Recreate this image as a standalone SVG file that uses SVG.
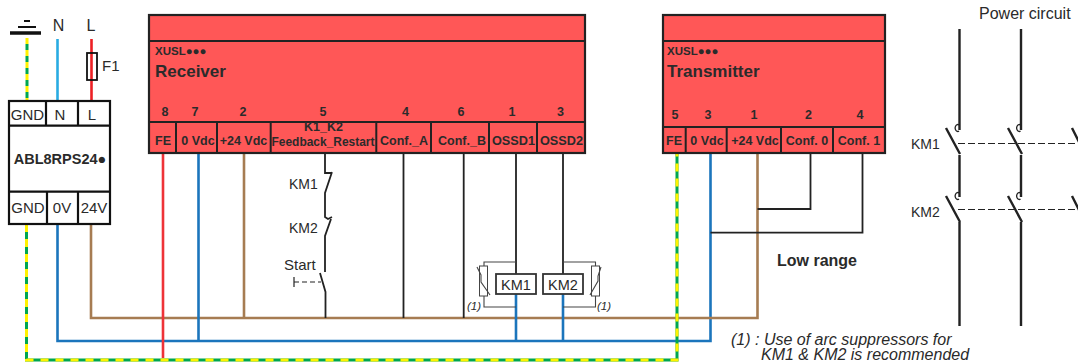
<svg xmlns="http://www.w3.org/2000/svg" width="1078" height="363" viewBox="0 0 1078 363">
<style>
text{font-family:"Liberation Sans",Arial,sans-serif;fill:#2a2a2a}
.c{text-anchor:middle}
.b{font-weight:bold}
.t{font-weight:bold;font-size:12.5px;text-anchor:middle;fill:#2b2b2b}
.n{font-weight:bold;font-size:12.5px;text-anchor:middle;fill:#2b2b2b}
.big{font-weight:bold;font-size:17px;fill:#2b2b2b}
.x{font-weight:bold;font-size:11.5px;fill:#2b2b2b}
.box{fill:#ff5757;stroke:#222;stroke-width:2.200}
.div{fill:none;stroke:#222;stroke-width:2}
.w{fill:none;stroke-width:2.600}
.e{fill:none;stroke-width:3}
.bk{fill:none;stroke:#222;stroke-width:1.800}
.th{fill:none;stroke:#222;stroke-width:1.200}
.gr{fill:none;stroke:#444;stroke-width:1.100}
.pw{fill:none;stroke:#222;stroke-width:2.400}
.da{fill:none;stroke:#222;stroke-width:1;stroke-dasharray:7 3}
.psu{fill:#fff;stroke:#111;stroke-width:2.200}
.it{font-style:italic}
</style>
<g id="connectors">
<path class="e" stroke="#fff200" stroke-dasharray="6 6" d="M27 38V100"/>
<path class="e" stroke="#00a651" stroke-dasharray="6 6" stroke-dashoffset="6" d="M27 38V100"/>
<path class="w" stroke="#29abe2" d="M57.500 39V100"/>
<path class="w" stroke="#ed2024" d="M91.500 39V100"/>
<path class="w" stroke="#1b75bc" d="M57.500 224V341H710.500V153"/>
<path class="w" stroke="#a67c52" d="M91 224V318H757.500V153"/>
<path class="w" stroke="#1b75bc" d="M198.500 153V341"/>
<path class="w" stroke="#a67c52" d="M244 153V318"/>
<path class="w" stroke="#ee3338" d="M163 153V358"/>
<path class="e" stroke="#00a651" d="M26.500 224V360H677V153"/>
<path class="e" stroke="#fff200" stroke-dasharray="8 7" d="M26.500 224V360H677V153"/>
<path class="bk" d="M403.500 153V318M463.700 153V318M516 153V274M563 153V274"/>
<path class="w" stroke="#1b75bc" d="M516 294V341M563 294V341"/>
<path class="bk" d="M757.500 209H810.500V153M710.500 232.700H862.500V153"/>
<path class="bk" d="M325 153V173H332M332 172L325 193V217L328 219L332 217M331 219L325 236V272M320 273L325.500 292V318"/>
<path class="th" d="M294 277V287"/><path class="th" stroke-dasharray="5 3" d="M294 282H321"/>
<path class="gr" d="M516 262H484V266M484 296V307H516M563 262H595.500V266M595.500 296V307H563"/>
</g>
<g id="earth"><path d="M10 33H41" stroke="#111" stroke-width="3.500"/><path d="M18 27H36" stroke="#111" stroke-width="2"/><path d="M24 21H30" stroke="#111" stroke-width="2"/></g>
<g id="labels-top"><text class="c" x="58.500" y="31" font-size="16">N</text><text class="c" x="91" y="31" font-size="16">L</text><text x="102" y="71" font-size="15">F1</text></g>
<g id="fuse"><rect x="87" y="53" width="10" height="27" fill="none" stroke="#111" stroke-width="1.800"/></g>
<g id="psu">
<rect class="psu" x="9" y="101" width="101" height="123"/>
<path class="psu" d="M9 125.700H110M9 191.700H110M46 101V125.700M78 101V125.700M47 191.700V224M78 191.700V224" style="fill:none"/>
<text class="c" x="27.500" y="120" font-size="15">GND</text><text class="c" x="60" y="120" font-size="15">N</text><text class="c" x="92" y="120" font-size="15">L</text>
<text class="c b" x="60" y="164" font-size="14.500" fill="#222">ABL8RPS24●</text>
<text class="c" x="28" y="213" font-size="15">GND</text><text class="c" x="62" y="213" font-size="15">0V</text><text class="c" x="94" y="213" font-size="15">24V</text>
</g>
<g id="receiver">
<rect class="box" x="149" y="15" width="436" height="138"/>
<path class="div" d="M149 41H585M149 122H585M176 122V153M217 122V153M270.700 122V153M376.300 122V153M431 122V153M489 122V153M537 122V153"/>
<text class="x" x="155" y="55">XUSL●●●</text><text class="big" x="155" y="77">Receiver</text>
<text class="n" x="165" y="116">8</text><text class="n" x="195" y="116">7</text><text class="n" x="243" y="116">2</text><text class="n" x="323" y="116">5</text><text class="n" x="405.500" y="116">4</text><text class="n" x="461" y="116">6</text><text class="n" x="512" y="116">1</text><text class="n" x="560.500" y="116">3</text>
<text class="t" x="163" y="145">FE</text><text class="t" x="198" y="145">0 Vdc</text><text class="t" x="243.500" y="145">+24 Vdc</text><text class="t" x="323.500" y="131">K1_K2</text><text class="t" x="323" y="146" textLength="103" lengthAdjust="spacingAndGlyphs">Feedback_Restart</text><text class="t" x="404" y="145">Conf._A</text><text class="t" x="462" y="145">Conf._B</text><text class="t" x="513.500" y="145" textLength="43" lengthAdjust="spacingAndGlyphs">OSSD1</text><text class="t" x="561.500" y="145" textLength="43" lengthAdjust="spacingAndGlyphs">OSSD2</text>
</g>
<g id="transmitter">
<rect class="box" x="663" y="15" width="222" height="138"/>
<path class="div" d="M663 41H885M663 127H885M685.700 127V153M726.700 127V153M781 127V153M833 127V153"/>
<text class="x" x="667" y="55">XUSL●●●</text><text class="big" x="667" y="77">Transmitter</text>
<text class="n" x="675" y="119">5</text><text class="n" x="708" y="119">3</text><text class="n" x="754" y="119">1</text><text class="n" x="808.500" y="119">2</text><text class="n" x="860" y="119">4</text>
<text class="t" x="674" y="145">FE</text><text class="t" x="707" y="145">0 Vdc</text><text class="t" x="755" y="145">+24 Vdc</text><text class="t" x="807" y="145">Conf. 0</text><text class="t" x="859" y="145">Conf. 1</text>
</g>
<g id="contacts-labels"><text x="289" y="189" font-size="14">KM1</text><text x="289" y="233" font-size="14">KM2</text><text x="284" y="270" font-size="15">Start</text></g>
<g id="km1-coil"><rect x="496" y="274" width="40" height="20" fill="#fff" stroke="#333" stroke-width="1.800"/><text class="c" x="516" y="290" font-size="14.500">KM1</text></g>
<g id="km2-coil"><rect x="543" y="274" width="40" height="20" fill="#fff" stroke="#333" stroke-width="1.800"/><text class="c" x="563" y="290" font-size="14.500">KM2</text></g>
<g id="suppressor1"><rect x="479.500" y="266" width="8" height="30" fill="#fff" stroke="#444"/><path class="gr" d="M477 267L481 275V282L490 295"/><text class="it" x="467" y="310" font-size="11.500">(1)</text></g>
<g id="suppressor2"><rect x="591.500" y="266" width="8" height="30" fill="#fff" stroke="#444"/><path class="gr" d="M601 267L598 276V281L590 295"/><text class="it" x="597" y="310" font-size="11.500">(1)</text></g>
<g id="low-range"><text class="b" x="777" y="266" font-size="16" fill="#222">Low range</text></g>
<g id="note"><text class="it" font-size="16"><tspan x="731" y="345">(1) : Use of arc suppressors for</tspan><tspan x="761" y="359.500">KM1 &amp; KM2 is recommended</tspan></text></g>
<g id="power-circuit">
<text x="979" y="19" font-size="16">Power circuit</text>
<path class="pw" d="M959.500 29V130M1021 29V130M959.500 155V197M1021 155V197M959.500 222V326M1021 222V326"/>
<path class="pw" d="M946 128L960 154M1008 128L1022 154M1072 128L1079 142M946 196L960 222M1008 196L1022 222M1072 196L1079 210"/>
<path fill="none" stroke="#222" stroke-width="1.300" d="M959 125a2.500 3.500 0 1 0 0 6M1020.500 125a2.500 3.500 0 1 0 0 6M959 193a2.500 3.500 0 1 0 0 6M1020.500 193a2.500 3.500 0 1 0 0 6"/>
<path class="da" d="M958 143.500H1078M958 209.500H1078"/>
<text x="911" y="149" font-size="14">KM1</text><text x="911" y="217" font-size="14">KM2</text>
</g>
</svg>
